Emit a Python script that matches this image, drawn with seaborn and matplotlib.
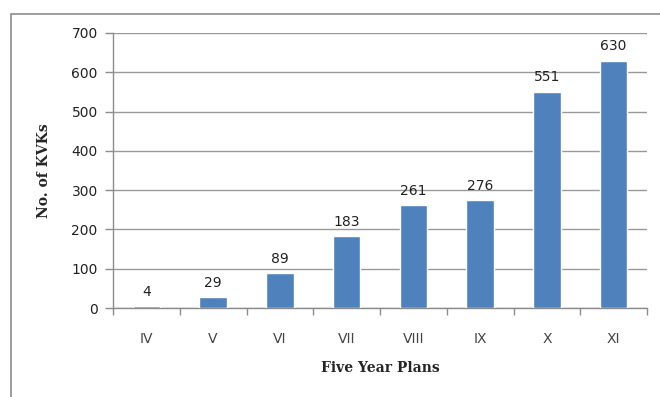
import numpy as np
import pandas as pd
import matplotlib
matplotlib.use("Agg")
import matplotlib.pyplot as plt
import seaborn as sns
from matplotlib.patches import Rectangle

# Data
plans = ["IV", "V", "VI", "VII", "VIII", "IX", "X", "XI"]
kvks = [4, 29, 89, 183, 261, 276, 551, 630]

df = pd.DataFrame({"plan": plans, "kvks": kvks})

sns.set_theme(style="white")
plt.rcParams['font.family'] = ['DejaVu Sans']

fig = plt.figure(figsize=(6.6, 3.97), dpi=100)
ax = fig.add_axes([113 / 660, 1 - 308 / 397, (647 - 113) / 660, (308 - 33) / 397])

# outer chart frame (cut off at right and bottom like the source)
fig.patches.append(Rectangle((11 / 660, -0.05), 1.0, 1 - 14 / 397 + 0.05,
                             transform=fig.transFigure, fill=False,
                             edgecolor="#8c8c8c", linewidth=1.2))

sns.barplot(data=df, x="plan", y="kvks", color="#4F81BD", width=0.41,
            saturation=1, ax=ax, zorder=3)

ax.set_ylim(0, 700)
ax.set_xlim(-0.5, len(plans) - 0.5)
ax.set_yticks(range(0, 701, 100))
ax.yaxis.grid(True, color="#999999", linewidth=1)
ax.set_axisbelow(True)

for s in ["top", "right"]:
    ax.spines[s].set_visible(False)
for s in ["left", "bottom"]:
    ax.spines[s].set_color("#8c8c8c")
    ax.spines[s].set_linewidth(1)

# x ticks sit between categories
ax.set_xticks(np.arange(-0.5, len(plans)), minor=True)
ax.tick_params(axis="x", which="minor", length=5, color="#8c8c8c", width=1, bottom=True)
ax.tick_params(axis="x", which="major", length=0, pad=17, labelsize=10, labelcolor="#444444")
ax.tick_params(axis="y", length=6, color="#8c8c8c", width=1, left=True, pad=5,
               labelsize=10, labelcolor="#222222")

for i, v in enumerate(kvks):
    ax.text(i, v + 18, str(v), ha="center", va="bottom", fontsize=10, color="#222222")

ax.set_xlabel("Five Year Plans", family="DejaVu Serif", fontweight="bold",
              fontsize=10, labelpad=11)
ax.set_ylabel("No. of KVKs", family="DejaVu Serif", fontweight="bold",
              fontsize=10, labelpad=15)

fig.savefig("out.png", dpi=100)
